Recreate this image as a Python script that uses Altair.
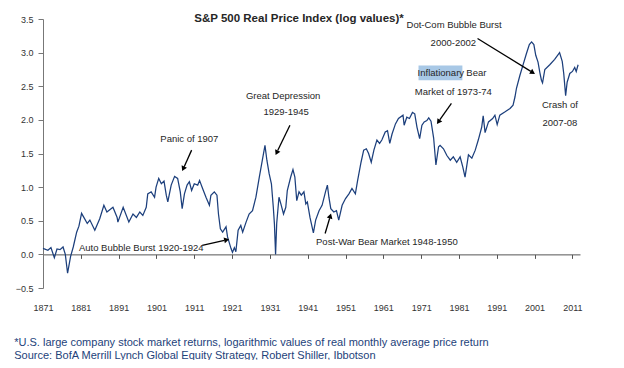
import math
import altair as alt
import pandas as pd

# ---------------- data ----------------
years = [1871.0, 1872.3, 1873.1, 1874.0, 1874.7, 1875.5, 1876.3, 1876.9, 1877.5, 1878.3,
         1879.0, 1879.9, 1880.5, 1881.2, 1881.8, 1882.7, 1883.4, 1884.7, 1886.0, 1887.1,
         1887.9, 1889.5, 1890.6, 1890.8, 1892.2, 1893.7, 1894.8, 1895.7, 1896.6, 1897.4,
         1898.3, 1898.7, 1899.6, 1900.5, 1900.9, 1901.6, 1902.3, 1903.0, 1903.6, 1904.0,
         1904.9, 1905.8, 1906.6, 1907.3, 1907.8, 1908.4, 1909.1, 1909.7, 1910.3, 1911.0,
         1911.9, 1912.4, 1913.2, 1914.1, 1915.0, 1915.4, 1916.3, 1917.0, 1917.4, 1917.9,
         1918.5, 1919.4, 1919.8, 1920.7, 1921.1, 1921.6, 1922.0, 1922.6, 1923.3, 1923.8,
         1924.7, 1925.5, 1926.4, 1927.3, 1928.2, 1929.0, 1929.7, 1930.2, 1930.8, 1931.4,
         1931.9, 1932.2, 1932.4, 1932.5, 1932.8, 1933.4, 1933.9, 1934.6, 1935.2, 1935.6,
         1936.5, 1937.1, 1937.6, 1938.1, 1938.7, 1939.3, 1940.0, 1940.5, 1940.9, 1941.6,
         1942.5, 1943.1, 1944.0, 1944.8, 1945.7, 1946.2, 1946.6, 1947.1, 1947.9, 1948.6,
         1949.2, 1950.1, 1951.0, 1951.9, 1952.7, 1953.6, 1954.2, 1955.1, 1955.8, 1956.5,
         1957.1, 1957.8, 1958.5, 1959.3, 1960.0, 1960.6, 1961.5, 1962.1, 1962.7, 1963.3,
         1964.2, 1965.0, 1966.2, 1966.5, 1967.2, 1967.9, 1968.7, 1969.3, 1969.9, 1970.6,
         1971.2, 1971.8, 1972.5, 1973.0, 1973.6, 1974.3, 1974.9, 1975.6, 1976.0, 1976.9,
         1977.8, 1978.7, 1979.5, 1980.4, 1981.3, 1982.0, 1982.6, 1983.5, 1984.4, 1985.3,
         1986.1, 1987.0, 1987.4, 1987.9, 1988.8, 1989.9, 1990.5, 1991.1, 1991.8, 1993.2,
         1994.5, 1995.3, 1995.8, 1996.2, 1997.1, 1998.0, 1998.8, 1999.6, 2000.2, 2000.8,
         2001.3, 2001.9, 2002.4, 2002.8, 2003.1, 2003.7, 2005.0, 2006.3, 2007.6, 2008.3,
         2008.7, 2009.2, 2009.6, 2010.3, 2011.0, 2011.6, 2012.0, 2012.5]
values = [0.09, 0.06, 0.10, -0.05, 0.08, 0.07, 0.11, 0.00, -0.28, -0.03,
          0.11, 0.33, 0.42, 0.61, 0.55, 0.46, 0.51, 0.36, 0.53, 0.73,
          0.63, 0.70, 0.55, 0.48, 0.70, 0.48, 0.60, 0.55, 0.63, 0.58,
          0.70, 0.90, 0.93, 0.85, 1.00, 1.13, 1.05, 1.09, 0.88, 0.78,
          1.03, 1.16, 1.13, 0.93, 0.68, 0.90, 1.03, 1.08, 0.95, 1.05,
          1.03, 1.10, 0.98, 0.85, 0.73, 0.88, 0.93, 0.88, 0.60, 0.38,
          0.33, 0.41, 0.26, 0.09, 0.03, 0.10, 0.04, 0.36, 0.43, 0.33,
          0.48, 0.60, 0.65, 0.85, 1.15, 1.40, 1.62, 1.40, 1.20, 1.05,
          0.70, 0.45, 0.15, 0.00, 0.46, 0.85, 0.75, 0.60, 0.70, 0.95,
          1.15, 1.26, 1.15, 0.80, 0.93, 0.88, 0.93, 0.75, 0.78, 0.55,
          0.32, 0.51, 0.65, 0.73, 0.93, 1.03, 0.85, 0.68, 0.63, 0.65,
          0.51, 0.73, 0.83, 0.90, 0.98, 0.90, 1.10, 1.37, 1.55, 1.57,
          1.50, 1.37, 1.55, 1.70, 1.65, 1.70, 1.82, 1.84, 1.65, 1.79,
          1.94, 2.02, 2.07, 1.92, 2.04, 2.02, 2.11, 2.09, 1.89, 1.72,
          1.92, 1.97, 1.99, 2.03, 1.98, 1.73, 1.33, 1.60, 1.62, 1.57,
          1.47, 1.40, 1.45, 1.37, 1.45, 1.30, 1.15, 1.48, 1.43, 1.55,
          1.70, 1.89, 2.06, 1.81, 1.97, 2.02, 2.07, 1.93, 2.07, 2.12,
          2.17, 2.22, 2.34, 2.47, 2.66, 2.83, 2.98, 3.12, 3.16, 3.12,
          2.96, 2.86, 2.70, 2.59, 2.55, 2.75, 2.82, 2.90, 3.00, 2.87,
          2.69, 2.36, 2.56, 2.69, 2.72, 2.78, 2.72, 2.82]

x_ticks = [1871, 1881, 1891, 1901, 1911, 1921, 1931, 1941, 1951, 1961, 1971, 1981, 1991, 2001, 2011]
y_ticks = [-0.5, 0.0, 0.5, 1.0, 1.5, 2.0, 2.5, 3.0, 3.5]

title_text = "S&P 500 Real Price Index (log values)*"
foot_lines = ["*U.S. large company stock market returns, logarithmic values of real monthly average price return",
              "Source: BofA Merrill Lynch Global Equity Strategy, Robert Shiller, Ibbotson"]

ann_text = ["Panic of 1907", "Great Depression", "1929-1945", "Auto Bubble Burst 1920-1924",
            "Post-War Bear Market 1948-1950", "Inflationary", "Bear", "Market of 1973-74",
            "Dot-Com Bubble Burst", "2000-2002", "Crash of", "2007-08"]
ann_x = [1909.7, 1934.5, 1935.3, 1880.5, 1943.2, 1976.2, 1985.6, 1979.5, 1979.7, 1979.5, 2007.7, 2007.7]
ann_y = [1.72, 2.35, 2.11, 0.09, 0.19, 2.69, 2.69, 2.42, 3.405, 3.14, 2.22, 1.95]
ann_align = ["center", "center", "center", "left", "left", "center", "center", "center",
             "center", "center", "center", "center"]

# arrows: start (x1, y1) -> head (x2, y2)
arr_x1 = [1910.3, 1936.3, 1913.1, 1945.6, 1979.0, 1985.9]
arr_y1 = [1.55, 1.92, 0.134, 0.31, 2.245, 3.21]
arr_x2 = [1907.9, 1932.6, 1920.0, 1947.1, 1975.3, 2000.9]
arr_y2 = [1.25, 1.49, 0.223, 0.595, 1.95, 2.69]

hl_x, hl_x2, hl_y, hl_y2 = [1970.3], [1981.9], [2.81], [2.59]

# ---------------- layout ----------------
W, H = 537, 269
XD = [1871, 2013]
YD = [-0.5, 3.5]
FONT = "Liberation Sans, Arial, sans-serif"
LINE = "#1c3f7c"
TXT = "#262626"


def to_px(xv, yv):
    return ((xv - XD[0]) / (XD[1] - XD[0]) * W, (YD[1] - yv) / (YD[1] - YD[0]) * H)


def to_data(px, py):
    return (XD[0] + px / W * (XD[1] - XD[0]), YD[1] - py / H * (YD[1] - YD[0]))


heads = []
for a, b, c, d in zip(arr_x1, arr_y1, arr_x2, arr_y2):
    p1 = to_px(a, b)
    p2 = to_px(c, d)
    dx, dy = p2[0] - p1[0], p2[1] - p1[1]
    L = math.hypot(dx, dy)
    ang = math.degrees(math.atan2(dx, -dy)) % 360
    hx, hy = to_data(p2[0] - dx / L * 2.5, p2[1] - dy / L * 2.5)
    ex, ey = to_data(p2[0] - dx / L * 4.0, p2[1] - dy / L * 4.0)
    heads.append({"x": hx, "y": hy, "angle": ang, "x1": a, "y1": b, "ex": ex, "ey": ey})

df = pd.DataFrame({"x": years, "y": values})
ann = pd.DataFrame({"x": ann_x, "y": ann_y, "text": ann_text, "align": ann_align})
arr = pd.DataFrame(heads)
hl = pd.DataFrame({"x": hl_x, "x2": hl_x2, "y": hl_y, "y2": hl_y2})

xs = alt.Scale(domain=XD, nice=False, zero=False)
ys = alt.Scale(domain=YD, nice=False, zero=False)

x_axis = alt.Axis(
    values=x_ticks, format="d", title=None, grid=False, offset=-H / 8.0,
    domainColor="#555555", tickColor="#555555", tickSize=4, labelPadding=45,
    labelFont=FONT, labelFontSize=9, labelColor="#333333", labelFlush=False,
    labelOverlap=False)
y_axis = alt.Axis(
    values=y_ticks, format=".1f", title=None, grid=False,
    domainColor="#777777", tickColor="#777777", tickSize=5, labelPadding=5,
    labelFont=FONT, labelFontSize=9, labelColor="#333333", labelFlush=False,
    labelOverlap=False)


def X(field):
    return alt.X(field, scale=xs, axis=x_axis, title=None)


def Y(field):
    return alt.Y(field, scale=ys, axis=y_axis, title=None)


line = alt.Chart(df).mark_line(color=LINE, strokeWidth=1.25).encode(x=X("x:Q"), y=Y("y:Q"))

box = alt.Chart(hl).mark_rect(color="#a8c8e6").encode(
    x=X("x:Q"), x2="x2:Q", y=Y("y:Q"), y2="y2:Q")

left_ann = ann[ann["align"] == "left"]
center_ann = ann[ann["align"] == "center"]
texts_c = alt.Chart(center_ann).mark_text(font=FONT, fontSize=9.5, color=TXT, baseline="middle",
                                          align="center").encode(
    x=X("x:Q"), y=Y("y:Q"), text="text:N")
texts_l = alt.Chart(left_ann).mark_text(font=FONT, fontSize=9.5, color=TXT, baseline="middle",
                                        align="left").encode(
    x=X("x:Q"), y=Y("y:Q"), text="text:N")

shafts = alt.Chart(arr).mark_rule(color="#000000", strokeWidth=1.3).encode(
    x=X("x1:Q"), y=Y("y1:Q"), x2="ex:Q", y2="ey:Q")
tips = alt.Chart(arr).mark_point(shape="triangle", filled=True, color="#000000", size=34,
                                 opacity=1).encode(
    x=X("x:Q"), y=Y("y:Q"), angle=alt.Angle("angle:Q", scale=None))

title_df = pd.DataFrame({"x": [1938.7], "y": [3.5], "t": [title_text]})
title = alt.Chart(title_df).mark_text(font=FONT, fontSize=11.5, fontWeight="bold", color=TXT,
                                      baseline="middle", align="center").encode(
    x=X("x:Q"), y=Y("y:Q"), text="t:N")

chart = alt.layer(box, line, shafts, tips, texts_c, texts_l, title).properties(
    width=W, height=H,
    autosize=alt.AutoSizeParams(type="none"),
    padding={"left": 35, "top": 11, "right": 36, "bottom": 72},
    title=alt.TitleParams(text=foot_lines, orient="bottom", anchor="start", frame="bounds",
                          font=FONT, fontSize=11, fontWeight="normal", color="#23427a",
                          lineHeight=13, offset=25, dx=-1),
).configure_view(stroke=None).configure_axis(labelOverlap=False)

chart.save("out.html", embed_options={"renderer": "svg", "actions": False})
